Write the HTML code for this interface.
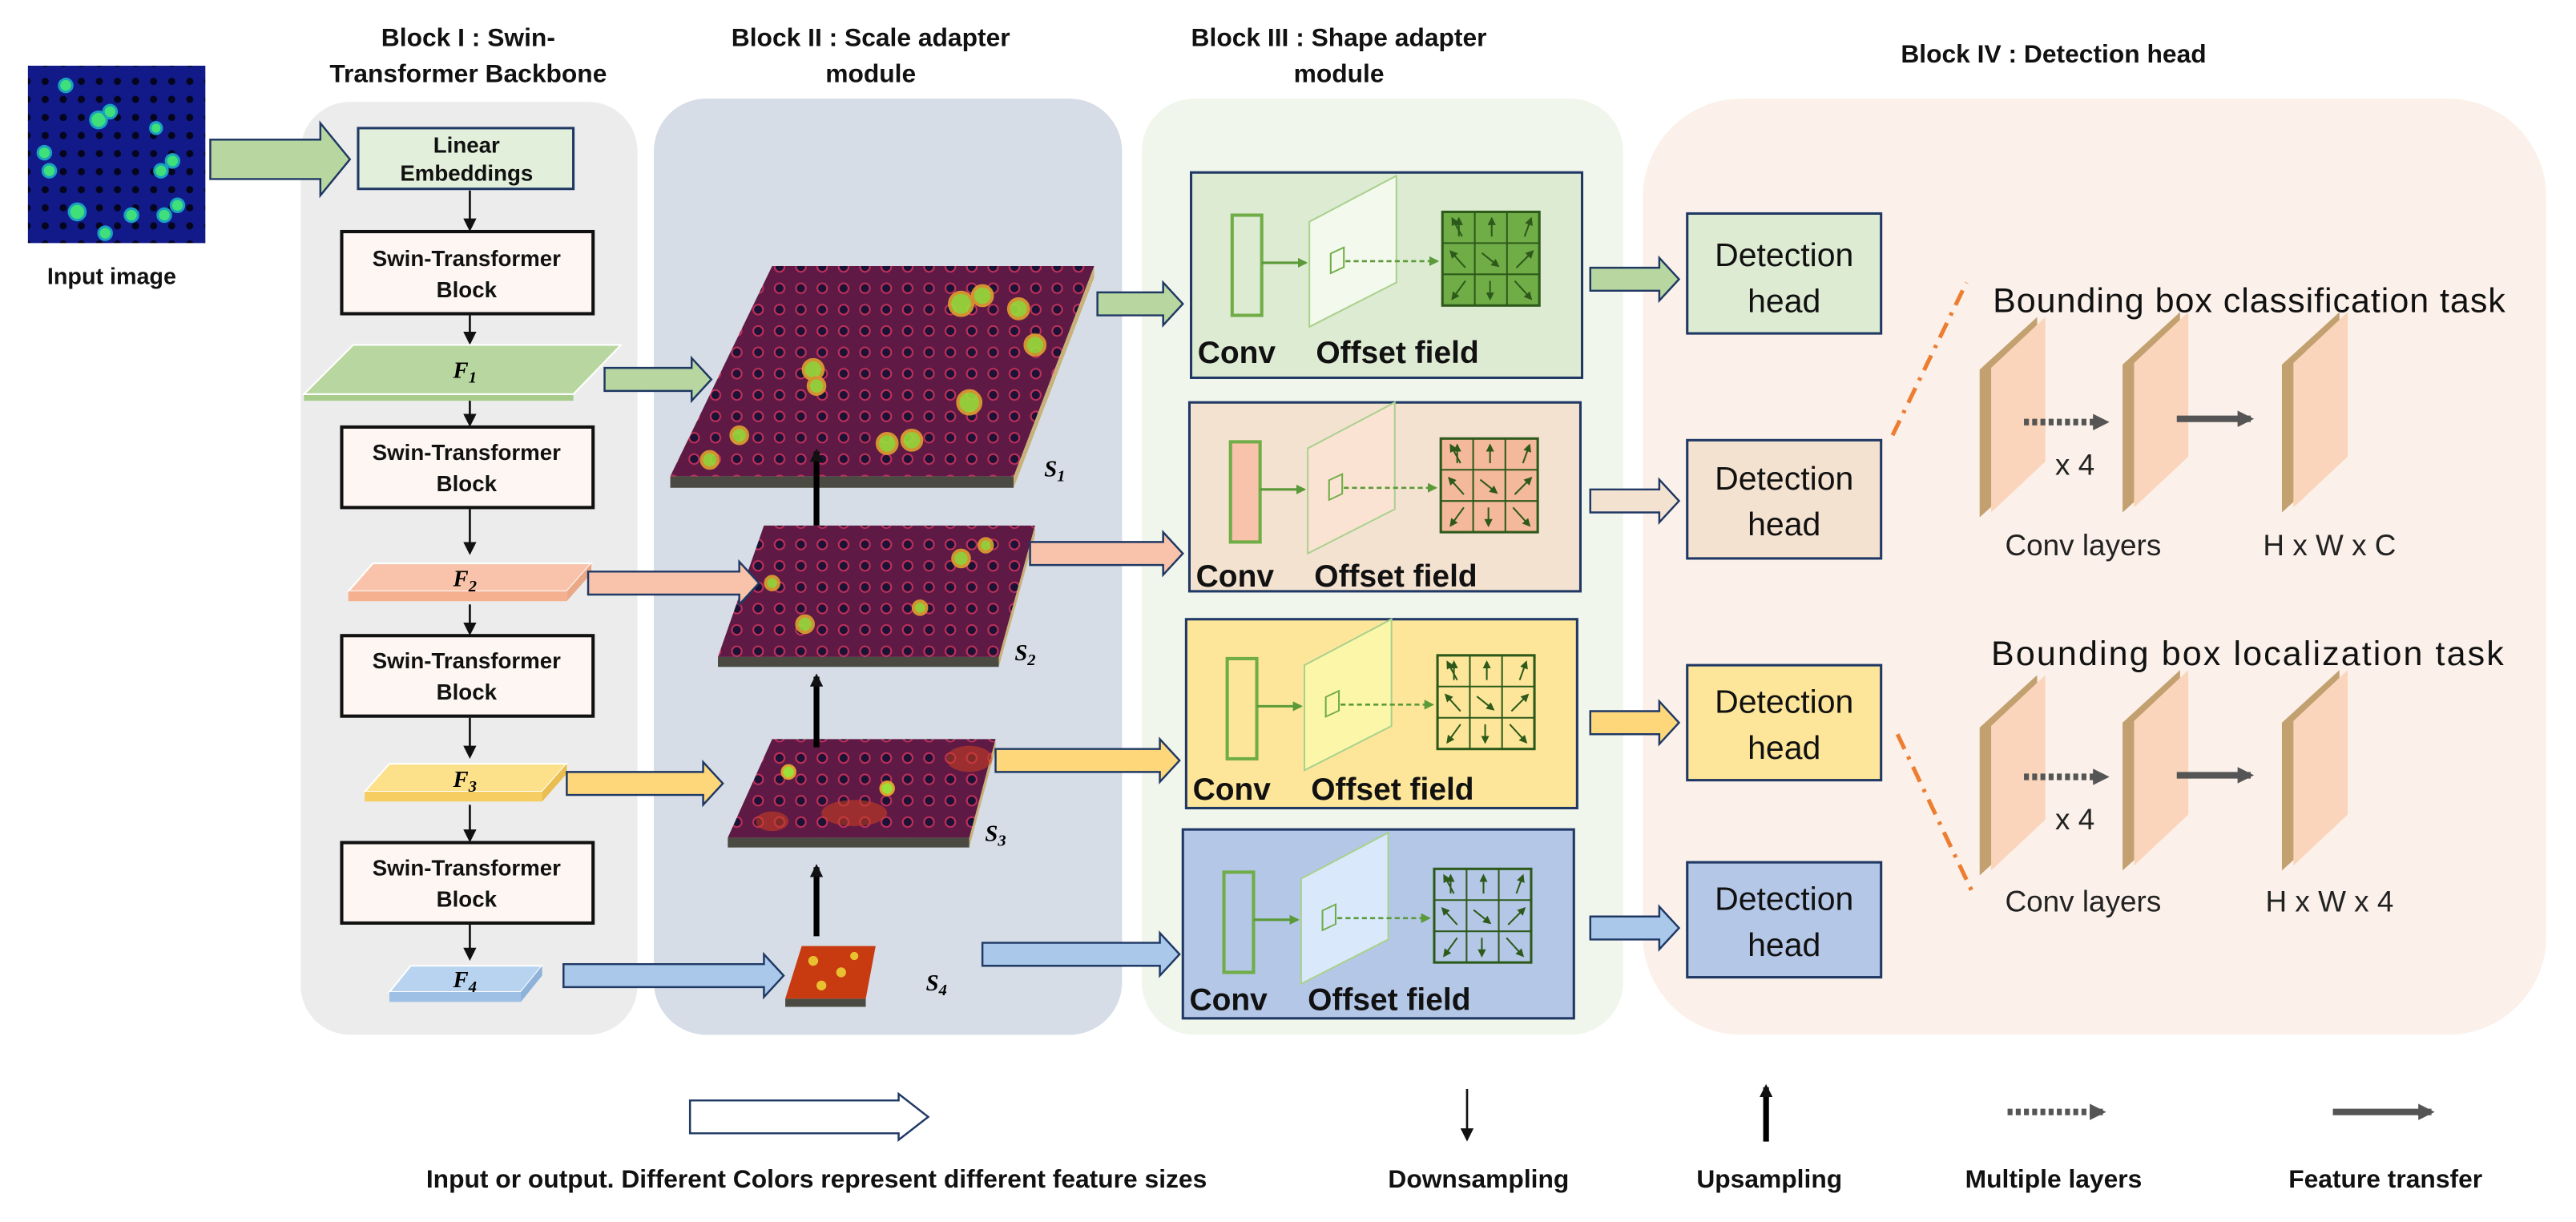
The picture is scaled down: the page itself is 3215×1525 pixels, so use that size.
<!DOCTYPE html>
<html><head><meta charset="utf-8"><style>
html,body{margin:0;padding:0;background:#fff;}
svg{display:block;font-family:"Liberation Sans",Arial,sans-serif;}
.t{font-weight:bold;font-size:15.5px;text-anchor:middle;fill:#111;}
.sb{font-weight:bold;font-size:13.5px;text-anchor:middle;fill:#111;}
.lb{font-weight:bold;font-size:19px;fill:#111;}
.dh{font-size:20px;text-anchor:middle;fill:#111;}
.rt{font-size:21px;fill:#111;}
.rl{font-size:18px;fill:#222;text-anchor:middle;}
.lg{font-weight:bold;font-size:15.5px;text-anchor:middle;fill:#111;}
.fi{font-family:"Liberation Serif",serif;font-style:italic;font-weight:bold;font-size:14px;text-anchor:middle;}
</style></head><body>
<svg width="3215" height="1525" viewBox="0 0 1568 744" preserveAspectRatio="none" xmlns="http://www.w3.org/2000/svg">
<defs>
<pattern id="cell" width="13" height="13" patternUnits="userSpaceOnUse">
<rect width="13" height="13" fill="#5e1a44"/>
<circle cx="6.5" cy="6.5" r="3" fill="#1b1235" stroke="#c0305a" stroke-width="1"/>
</pattern>
<pattern id="inp" width="11" height="11" patternUnits="userSpaceOnUse">
<rect width="11" height="11" fill="#121a8a"/>
<circle cx="5.5" cy="5.5" r="2.2" fill="#05061e"/>
</pattern>
<marker id="ah" markerWidth="8" markerHeight="8" refX="6" refY="4" orient="auto" markerUnits="userSpaceOnUse"><path d="M0,0 L8,4 L0,8z" fill="#111"/></marker>
<marker id="ag" markerWidth="6" markerHeight="6" refX="5" refY="3" orient="auto" markerUnits="userSpaceOnUse"><path d="M0,0 L6,3 L0,6z" fill="#5a9a38"/></marker>
<marker id="gy" markerWidth="10" markerHeight="10" refX="8" refY="5" orient="auto" markerUnits="userSpaceOnUse"><path d="M0,0 L10,5 L0,10z" fill="#555"/></marker>
<marker id="dg" markerWidth="5" markerHeight="5" refX="4" refY="2.5" orient="auto" markerUnits="userSpaceOnUse"><path d="M0,0 L5,2.5 L0,5z" fill="#2d5a1a"/></marker>
<g id="grid">
<rect x="0" y="0" width="59" height="57" fill="none" stroke="#2d5a1a" stroke-width="1.5"/>
<line x1="19.7" y1="0" x2="19.7" y2="57" stroke="#2d5a1a"/><line x1="39.3" y1="0" x2="39.3" y2="57" stroke="#2d5a1a"/>
<line x1="0" y1="19" x2="59" y2="19" stroke="#2d5a1a"/><line x1="0" y1="38" x2="59" y2="38" stroke="#2d5a1a"/>
<g stroke="#2d5a1a" stroke-width="1" marker-end="url(#dg)">
<line x1="12" y1="15" x2="6" y2="4"/><line x1="10" y1="15" x2="10" y2="4"/><line x1="30" y1="15" x2="30" y2="4"/><line x1="50" y1="15" x2="54" y2="4"/>
<line x1="14" y1="34" x2="5" y2="24"/><line x1="24" y1="25" x2="34" y2="33"/><line x1="45" y1="34" x2="55" y2="24"/>
<line x1="14" y1="42" x2="6" y2="53"/><line x1="29" y1="42" x2="29" y2="53"/><line x1="44" y1="42" x2="54" y2="53"/>
</g>
</g>
</defs>

<!-- panels -->
<rect x="183" y="62" width="205" height="568" rx="30" fill="#ececec"/>
<rect x="398" y="60" width="285" height="570" rx="32" fill="#d6dde7"/>
<rect x="695" y="60" width="293" height="570" rx="32" fill="#f1f6ed"/>
<rect x="1000" y="60" width="550" height="570" rx="60" fill="#fbf1ea"/>

<!-- titles -->
<text class="t" x="285" y="28">Block I : Swin-</text>
<text class="t" x="285" y="50">Transformer Backbone</text>
<text class="t" x="530" y="28">Block II : Scale adapter</text>
<text class="t" x="530" y="50">module</text>
<text class="t" x="815" y="28">Block III : Shape adapter</text>
<text class="t" x="815" y="50">module</text>
<text class="t" x="1250" y="38">Block IV : Detection head</text>

<!-- input image -->
<rect x="17" y="40" width="108" height="108" fill="url(#inp)"/>
<g fill="#3fe07a" stroke="#1aa0c0" stroke-width="1.5">
<circle cx="40" cy="52" r="4"/><circle cx="60" cy="73" r="5"/><circle cx="67" cy="68" r="4"/><circle cx="27" cy="93" r="4"/><circle cx="30" cy="104" r="4"/>
<circle cx="98" cy="104" r="4"/><circle cx="105" cy="98" r="4"/><circle cx="47" cy="129" r="5"/><circle cx="108" cy="125" r="4"/><circle cx="100" cy="131" r="4"/><circle cx="80" cy="131" r="4"/><circle cx="95" cy="78" r="3.5"/><circle cx="64" cy="142" r="4"/></g>
<text class="t" x="68" y="173" style="font-size:14px">Input image</text>

<!-- block I -->
<rect x="218" y="78" width="131" height="37" fill="#e2efda" stroke="#1f3864" stroke-width="1.5"/>
<text class="sb" x="284" y="93">Linear</text><text class="sb" x="284" y="110">Embeddings</text>
<g stroke="#111" stroke-width="1.3" marker-end="url(#ah)">
<line x1="286" y1="116" x2="286" y2="139"/><line x1="286" y1="192" x2="286" y2="208"/>
<line x1="286" y1="243" x2="286" y2="258"/><line x1="286" y1="310" x2="286" y2="336"/>
<line x1="286" y1="368" x2="286" y2="385"/><line x1="286" y1="437" x2="286" y2="460"/>
<line x1="286" y1="490" x2="286" y2="511"/><line x1="286" y1="563" x2="286" y2="583"/>
</g>
<g fill="#fdf6f3" stroke="#111" stroke-width="2">
<rect x="208" y="141" width="153" height="50"/><rect x="208" y="260" width="153" height="49"/>
<rect x="208" y="387" width="153" height="49"/><rect x="208" y="513" width="153" height="49"/></g>
<text class="sb" x="284" y="162">Swin-Transformer</text><text class="sb" x="284" y="181">Block</text>
<text class="sb" x="284" y="280">Swin-Transformer</text><text class="sb" x="284" y="299">Block</text>
<text class="sb" x="284" y="407">Swin-Transformer</text><text class="sb" x="284" y="426">Block</text>
<text class="sb" x="284" y="533">Swin-Transformer</text><text class="sb" x="284" y="552">Block</text>
<!-- F shapes -->
<polygon points="185,240 349,240 349,244 185,244" fill="#a8cc8c"/>
<polygon points="215,210 378,210 349,240 185,240" fill="#b8d7a0" stroke="#fff"/>
<text class="fi" x="283" y="230">F<tspan font-size="10" dy="3">1</tspan></text>
<polygon points="227,343 360,343 345,360 212,360" fill="#f8c3aa" stroke="#fff"/>
<polygon points="345,360 360,343 360,349 345,366" fill="#e9a987"/>
<polygon points="212,360 345,360 345,366 212,366" fill="#f5b090"/>
<text class="fi" x="283" y="357">F<tspan font-size="10" dy="3">2</tspan></text>
<polygon points="237,465 345,465 330,482 222,482" fill="#fde08a" stroke="#fff"/>
<polygon points="330,482 345,465 345,471 330,488" fill="#e9bd50"/>
<polygon points="222,482 330,482 330,488 222,488" fill="#f5cd60"/>
<text class="fi" x="283" y="479">F<tspan font-size="10" dy="3">3</tspan></text>
<polygon points="250,588 330,588 317,604 237,604" fill="#b7d3f0" stroke="#fff"/>
<polygon points="317,604 330,588 330,594 317,610" fill="#8fb2da"/>
<polygon points="237,604 317,604 317,610 237,610" fill="#9fc0e5"/>
<text class="fi" x="283" y="601">F<tspan font-size="10" dy="3">4</tspan></text>

<!-- S maps -->
<polygon points="408,290 617,290 617,297 408,297" fill="#4a4a42"/>
<polygon points="617,290 666,162 666,169 617,297" fill="#c8b27a"/>
<polygon points="470,162 666,162 617,290 408,290" fill="url(#cell)"/>
<g fill="#9adf3a" stroke="#e0a030" stroke-width="2" opacity="0.9">
<circle cx="585" cy="185" r="7"/><circle cx="598" cy="180" r="6"/><circle cx="620" cy="188" r="6"/><circle cx="495" cy="225" r="6"/><circle cx="497" cy="235" r="5"/>
<circle cx="590" cy="245" r="7"/><circle cx="540" cy="270" r="6"/><circle cx="555" cy="268" r="6"/><circle cx="450" cy="265" r="5"/><circle cx="432" cy="280" r="5"/><circle cx="630" cy="210" r="6"/></g>
<text class="fi" x="642" y="290" font-weight="normal">S<tspan font-size="10" dy="3">1</tspan></text>

<polygon points="437,400 608,400 608,406 437,406" fill="#4a4a42"/>
<polygon points="608,400 630,320 630,326 608,406" fill="#c8b27a"/>
<polygon points="465,320 630,320 608,400 437,400" fill="url(#cell)"/>
<g fill="#9adf3a" stroke="#e0a030" stroke-width="2" opacity="0.9">
<circle cx="585" cy="340" r="5"/><circle cx="600" cy="332" r="4"/><circle cx="490" cy="380" r="5"/><circle cx="560" cy="370" r="4"/><circle cx="470" cy="355" r="4"/></g>
<text class="fi" x="624" y="402" font-weight="normal">S<tspan font-size="10" dy="3">2</tspan></text>

<polygon points="443,510 590,510 590,516 443,516" fill="#4a4a42"/>
<polygon points="590,510 606,450 606,456 590,516" fill="#c8b27a"/>
<polygon points="470,450 606,450 590,510 443,510" fill="url(#cell)"/>
<g fill="#d04020" opacity="0.55"><ellipse cx="590" cy="462" rx="14" ry="8"/><ellipse cx="520" cy="495" rx="20" ry="8"/><ellipse cx="470" cy="500" rx="10" ry="6"/></g>
<g fill="#9adf3a" stroke="#e0a030" stroke-width="1.5"><circle cx="540" cy="480" r="4"/><circle cx="480" cy="470" r="4"/></g>
<text class="fi" x="606" y="512" font-weight="normal">S<tspan font-size="10" dy="3">3</tspan></text>

<polygon points="478,608 527,608 527,613 478,613" fill="#4a4a42"/>
<polygon points="488,576 533,576 527,608 478,608" fill="#c83a10"/>
<g fill="#e8c030"><circle cx="495" cy="585" r="3"/><circle cx="512" cy="592" r="3"/><circle cx="520" cy="582" r="2.5"/><circle cx="500" cy="600" r="3"/></g>
<text class="fi" x="570" y="603" font-weight="normal">S<tspan font-size="10" dy="3">4</tspan></text>

<g stroke="#000" stroke-width="3.5" marker-end="url(#ah)">
<line x1="497" y1="320" x2="497" y2="275"/><line x1="497" y1="455" x2="497" y2="412"/><line x1="497" y1="570" x2="497" y2="528"/>
</g>

<!-- block arrows -->
<g stroke="#1f3864" stroke-width="1.2">
<polygon fill="#b8d7a0" points="128,85 195,85 195,75 213,97 195,119 195,109 128,109"/>
<polygon fill="#b8d7a0" points="368,224 421,224 421,218 433,231 421,244 421,238 368,238"/>
<polygon fill="#f8c3aa" points="358,348 450,348 450,342 462,355 450,368 450,362 358,362"/>
<polygon fill="#fdd77a" points="345,470 428,470 428,464 440,477 428,490 428,484 345,484"/>
<polygon fill="#a9c8ea" points="343,587 465,587 465,581 477,594 465,607 465,601 343,601"/>
<polygon fill="#b8d7a0" points="668,178 708,178 708,172 720,185 708,198 708,192 668,192"/>
<polygon fill="#f8c3aa" points="627,330 708,330 708,324 720,337 708,350 708,344 627,344"/>
<polygon fill="#fdd77a" points="606,456 706,456 706,450 718,463 706,476 706,470 606,470"/>
<polygon fill="#a9c8ea" points="598,574 706,574 706,568 718,581 706,594 706,588 598,588"/>
<polygon fill="#b8d7a0" points="968,163 1010,163 1010,157 1022,170 1010,183 1010,177 968,177"/>
<polygon fill="#f4e2d1" points="968,298 1010,298 1010,292 1022,305 1010,318 1010,312 968,312"/>
<polygon fill="#fdd77a" points="968,433 1010,433 1010,427 1022,440 1010,453 1010,447 968,447"/>
<polygon fill="#a9c8ea" points="968,558 1010,558 1010,552 1022,565 1010,578 1010,572 968,572"/>
<polygon fill="#fff" points="420,670 547,670 547,666 565,680 547,694 547,690 420,690"/>
</g>

<!-- Block III boxes -->
<g stroke="#1f3864" stroke-width="1.5">
<rect x="725" y="105" width="238" height="125" fill="#deebd3"/>
<rect x="724" y="245" width="238" height="115" fill="#f4e2d1"/>
<rect x="722" y="377" width="238" height="115" fill="#fde699"/>
<rect x="720" y="505" width="238" height="115" fill="#b4c7e7"/>
</g>
<g transform="translate(725,105)">
<rect x="25" y="26" width="18" height="61" fill="#deebd3" stroke="#70ad47" stroke-width="2"/>
<line x1="43" y1="55" x2="70" y2="55" stroke="#5a9a38" stroke-width="1.5" marker-end="url(#ag)"/>
<polygon points="72,30 125,2 125,67 72,94" fill="#f3f9ec" stroke="#a9d18e" stroke-width="1"/>
<rect x="85" y="48" width="8" height="12" fill="none" stroke="#70ad47" transform="skewY(-25) translate(0,41)"/>
<line x1="94" y1="54" x2="150" y2="54" stroke="#5a9a38" stroke-width="1.3" stroke-dasharray="3,2" marker-end="url(#ag)"/>
<g transform="translate(153,24)"><rect width="59" height="57" fill="#70ad47"/><use href="#grid"/></g>
<text class="lb" x="4" y="116">Conv</text><text class="lb" x="76" y="116">Offset field</text>
</g>
<g transform="translate(724,243)">
<rect x="25" y="26" width="18" height="61" fill="#f8c3aa" stroke="#70ad47" stroke-width="2"/>
<line x1="43" y1="55" x2="70" y2="55" stroke="#5a9a38" stroke-width="1.5" marker-end="url(#ag)"/>
<polygon points="72,30 125,2 125,67 72,94" fill="#fbe3d3" stroke="#a9d18e" stroke-width="1"/>
<rect x="85" y="48" width="8" height="12" fill="none" stroke="#70ad47" transform="skewY(-25) translate(0,41)"/>
<line x1="94" y1="54" x2="150" y2="54" stroke="#5a9a38" stroke-width="1.3" stroke-dasharray="3,2" marker-end="url(#ag)"/>
<g transform="translate(153,24)"><rect width="59" height="57" fill="#f4b89a"/><use href="#grid"/></g>
<text class="lb" x="4" y="114">Conv</text><text class="lb" x="76" y="114">Offset field</text>
</g>
<g transform="translate(722,375)">
<rect x="25" y="26" width="18" height="61" fill="#fde699" stroke="#70ad47" stroke-width="2"/>
<line x1="43" y1="55" x2="70" y2="55" stroke="#5a9a38" stroke-width="1.5" marker-end="url(#ag)"/>
<polygon points="72,30 125,2 125,67 72,94" fill="#fcf6a8" stroke="#a9d18e" stroke-width="1"/>
<rect x="85" y="48" width="8" height="12" fill="none" stroke="#70ad47" transform="skewY(-25) translate(0,41)"/>
<line x1="94" y1="54" x2="150" y2="54" stroke="#5a9a38" stroke-width="1.3" stroke-dasharray="3,2" marker-end="url(#ag)"/>
<g transform="translate(153,24)"><rect width="59" height="57" fill="#fde699"/><use href="#grid"/></g>
<text class="lb" x="4" y="112">Conv</text><text class="lb" x="76" y="112">Offset field</text>
</g>
<g transform="translate(720,505)">
<rect x="25" y="26" width="18" height="61" fill="#b4c7e7" stroke="#70ad47" stroke-width="2"/>
<line x1="43" y1="55" x2="70" y2="55" stroke="#5a9a38" stroke-width="1.5" marker-end="url(#ag)"/>
<polygon points="72,30 125,2 125,67 72,94" fill="#dae8fc" stroke="#a9d18e" stroke-width="1"/>
<rect x="85" y="48" width="8" height="12" fill="none" stroke="#70ad47" transform="skewY(-25) translate(0,41)"/>
<line x1="94" y1="54" x2="150" y2="54" stroke="#5a9a38" stroke-width="1.3" stroke-dasharray="3,2" marker-end="url(#ag)"/>
<g transform="translate(153,24)"><rect width="59" height="57" fill="#b4c7e7"/><use href="#grid"/></g>
<text class="lb" x="4" y="110">Conv</text><text class="lb" x="76" y="110">Offset field</text>
</g>

<!-- detection heads -->
<g stroke="#1f3864" stroke-width="1.5">
<rect x="1027" y="130" width="118" height="73" fill="#deebd3"/>
<rect x="1027" y="268" width="118" height="72" fill="#f4e2d1"/>
<rect x="1027" y="405" width="118" height="70" fill="#fde699"/>
<rect x="1027" y="525" width="118" height="70" fill="#b4c7e7"/>
</g>
<text class="dh" x="1086" y="162">Detection</text><text class="dh" x="1086" y="190">head</text>
<text class="dh" x="1086" y="298">Detection</text><text class="dh" x="1086" y="326">head</text>
<text class="dh" x="1086" y="434">Detection</text><text class="dh" x="1086" y="462">head</text>
<text class="dh" x="1086" y="554">Detection</text><text class="dh" x="1086" y="582">head</text>

<!-- dash-dot lines -->
<g stroke="#ed7d31" stroke-width="2.5" stroke-dasharray="10,5,2,5" fill="none">
<line x1="1152" y1="265" x2="1197" y2="172"/><line x1="1155" y1="447" x2="1200" y2="542"/>
</g>

<!-- right side -->
<text class="rt" x="1213" y="190" textLength="312">Bounding box classification task</text>
<text class="rt" x="1212" y="405" textLength="312">Bounding box localization task</text>
<g id="plates1">
<polygon points="1205,225 1240,193 1240,283 1205,315" fill="#c2a070"/>
<polygon points="1212,224 1245,193 1245,281 1212,312" fill="#fbd5bb"/>
<polygon points="1292,222 1327,190 1327,280 1292,312" fill="#c2a070"/>
<polygon points="1299,221 1332,190 1332,278 1299,309" fill="#fbd5bb"/>
<polygon points="1389,222 1424,190 1424,280 1389,312" fill="#c2a070"/>
<polygon points="1396,221 1429,190 1429,278 1396,309" fill="#fbd5bb"/>
</g>
<use href="#plates1" transform="translate(0,218)"/>
<g stroke-width="4">
<line x1="1232" y1="257" x2="1282" y2="257" stroke="#555" stroke-dasharray="3,2" marker-end="url(#gy)"/>
<line x1="1325" y1="255" x2="1370" y2="255" stroke="#555" marker-end="url(#gy)"/>
<line x1="1232" y1="473" x2="1282" y2="473" stroke="#555" stroke-dasharray="3,2" marker-end="url(#gy)"/>
<line x1="1325" y1="472" x2="1370" y2="472" stroke="#555" marker-end="url(#gy)"/>
</g>
<text class="rl" x="1263" y="289">x 4</text>
<text class="rl" x="1268" y="338">Conv layers</text><text class="rl" x="1418" y="338">H x W x C</text>
<text class="rl" x="1263" y="505">x 4</text>
<text class="rl" x="1268" y="555">Conv layers</text><text class="rl" x="1418" y="555">H x W x 4</text>

<!-- legend -->
<text class="lg" x="497" y="723">Input or output.  Different Colors represent different feature sizes</text>
<line x1="893" y1="663" x2="893" y2="693" stroke="#111" stroke-width="1.3" marker-end="url(#ah)"/>
<text class="lg" x="900" y="723">Downsampling</text>
<line x1="1075" y1="695" x2="1075" y2="662" stroke="#000" stroke-width="3.5" marker-end="url(#ah)"/>
<text class="lg" x="1077" y="723">Upsampling</text>
<line x1="1222" y1="677" x2="1280" y2="677" stroke="#555" stroke-width="4" stroke-dasharray="3,2" marker-end="url(#gy)"/>
<text class="lg" x="1250" y="723">Multiple layers</text>
<line x1="1420" y1="677" x2="1480" y2="677" stroke="#555" stroke-width="4" marker-end="url(#gy)"/>
<text class="lg" x="1452" y="723">Feature transfer</text>
</svg>
</body></html>
